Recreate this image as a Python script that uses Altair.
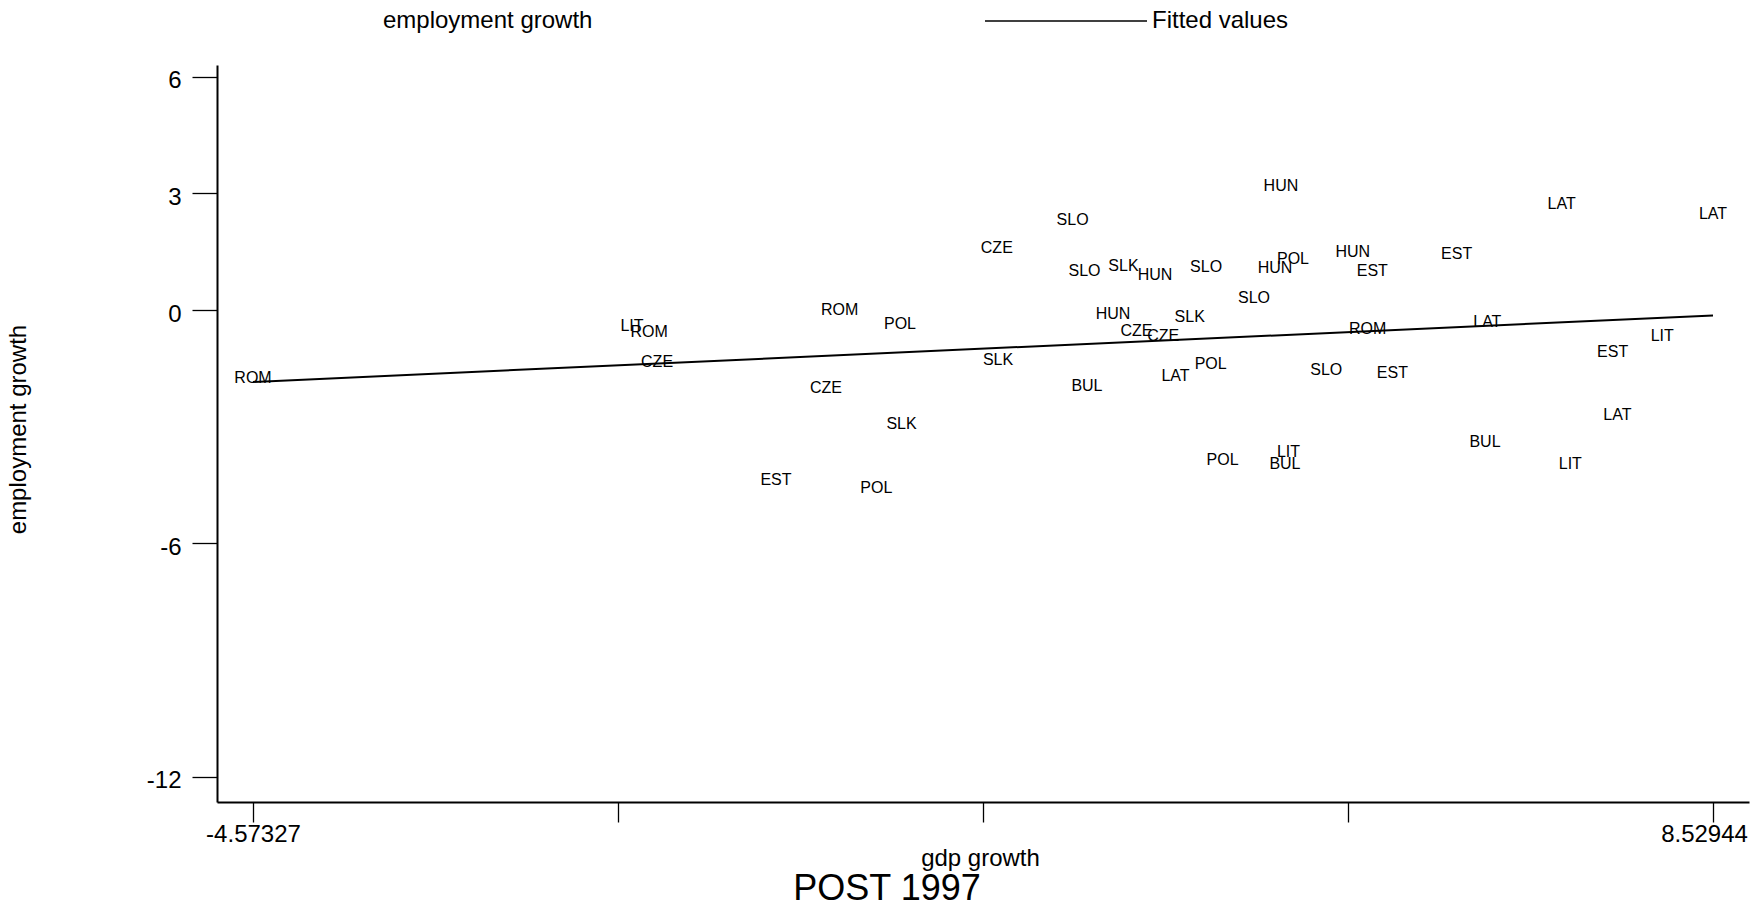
import altair as alt
import pandas as pd

# ---- data ----
countries = ["ROM", "LIT", "ROM", "CZE", "ROM", "POL", "CZE", "SLK", "EST", "POL",
             "CZE", "SLK", "SLO", "SLO", "BUL", "HUN", "SLK", "CZE", "HUN", "CZE",
             "LAT", "SLK", "SLO", "POL", "POL", "SLO", "HUN", "HUN", "BUL", "LIT",
             "POL", "SLO", "HUN", "ROM", "EST", "EST", "EST", "BUL", "LAT", "LAT",
             "LIT", "EST", "LAT", "LIT", "LAT"]
gdp_growth = [-4.57327, -1.172, -1.019, -0.947, 0.691, 1.233, 0.569, 1.247, 0.120, 1.021,
              2.102, 2.113, 2.782, 2.889, 2.911, 3.145, 3.239, 3.356, 3.522, 3.596,
              3.706, 3.833, 3.980, 4.021, 4.128, 4.410, 4.599, 4.652, 4.688, 4.720,
              4.760, 5.059, 5.296, 5.430, 5.472, 5.652, 6.229, 6.483, 6.504, 7.171,
              7.249, 7.629, 7.671, 8.074, 8.52944]
emp_growth = [-1.71, -0.36, -0.53, -1.29, 0.04, -0.32, -1.96, -2.89, -4.33, -4.54,
              1.64, -1.24, 2.36, 1.03, -1.91, -0.06, 1.18, -0.51, 0.93, -0.62,
              -1.65, -0.15, 1.14, -1.35, -3.81, 0.35, 1.12, 3.24, -3.92, -3.62,
              1.34, -1.50, 1.54, -0.46, 1.03, -1.59, 1.48, -3.36, -0.26, 2.77,
              -3.92, -1.03, -2.67, -0.62, 2.51]

fit_x = [-4.57327, 8.52944]
fit_y = [-1.85, -0.14]

y_ticks = [6, 3, 0, -6, -12]
x_ticks = [-4.57327, -1.29759, 1.97876, 5.25512, 8.52944]
x_domain = [-4.8963, 8.8525]
y_domain = [-12.65, 6.30]

legend_names = ["employment growth", "Fitted values"]

FONT = "Liberation Sans"

pts = pd.DataFrame({"country": countries, "gdp": gdp_growth, "emp": emp_growth})
fit = pd.DataFrame({"gdp": fit_x, "emp": fit_y, "series": ["Fitted values"] * len(fit_x)})

xscale = alt.Scale(domain=x_domain, nice=False, zero=False)
yscale = alt.Scale(domain=y_domain, nice=False, zero=False)

xaxis = alt.Axis(
    values=x_ticks,
    labelExpr="(datum.value < -4 || datum.value > 8) ? '' + datum.value : ''",
    title="gdp growth",
    tickSize=20,
    labelPadding=0,
    labelBaseline="top",
    labelOffset={"condition": {"test": "datum.value > 8", "value": -9}, "value": 0},
    titleBaseline="alphabetic",
    titleX=763,
    titleY=63,
    grid=False,
)
yaxis = alt.Axis(
    values=y_ticks,
    labelExpr="'' + datum.value",
    title="employment growth",
    tickSize=25,
    labelPadding=11,
    labelOffset=4,
    titleAngle=270,
    titleBaseline="alphabetic",
    titleX=-192,
    titleY=364,
    grid=False,
)

labels = alt.Chart(pts).mark_text(
    font=FONT, fontSize=16, color="black", align="center", baseline="middle", dy=1.5
).encode(
    x=alt.X("gdp:Q", scale=xscale, axis=xaxis),
    y=alt.Y("emp:Q", scale=yscale, axis=yaxis),
    text="country:N",
)

line = alt.Chart(fit).mark_line(strokeWidth=2).encode(
    x=alt.X("gdp:Q", scale=xscale, axis=xaxis),
    y=alt.Y("emp:Q", scale=yscale, axis=yaxis),
    stroke=alt.Stroke(
        "series:N",
        scale=alt.Scale(domain=legend_names, range=["transparent", "black"]),
        legend=alt.Legend(
            orient="none",
            legendX=-2,
            legendY=-126,
            direction="horizontal",
            title=None,
            symbolType="stroke",
            symbolSize=26244,
            symbolStrokeWidth=1.7,
            labelFont=FONT,
            labelFontSize=24,
            labelColor="black",
            labelLimit=600,
            labelOffset=4,
            columnPadding=388,
            padding=0,
        ),
    ),
)

chart = alt.layer(labels, line).properties(
    width=1532,
    height=737,
    padding={"left": 209, "top": 57, "right": 5, "bottom": 106},
    autosize=alt.AutoSizeParams(type="none"),
    title=alt.TitleParams(
        text="POST 1997",
        orient="bottom",
        anchor="middle",
        font=FONT,
        fontSize=36,
        fontWeight="normal",
        color="black",
        offset=0,
        dx=-96,
        dy=2,
    ),
).configure_view(stroke=None).configure_axis(
    domainColor="black",
    domainWidth=2,
    tickColor="black",
    tickWidth=1.3,
    labelFont=FONT,
    labelFontSize=24,
    labelColor="black",
    titleFont=FONT,
    titleFontSize=24,
    titleFontWeight="normal",
    titleColor="black",
)

chart.save("out.html", embed_options={"renderer": "svg", "actions": False})
